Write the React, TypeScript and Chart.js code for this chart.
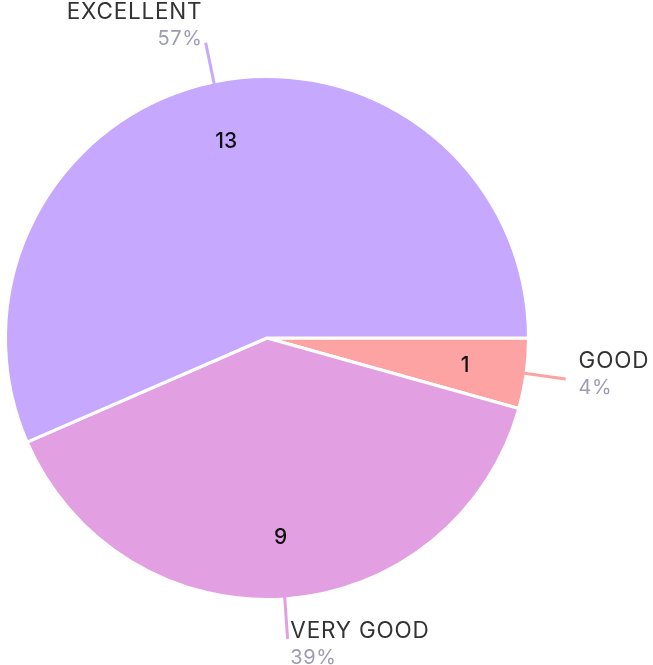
import React, { useEffect, useRef } from "react";
import { Chart, registerables } from "chart.js";

Chart.register(...registerables);

const labels = ["GOOD", "VERY GOOD", "EXCELLENT"];
const values = [1, 9, 13];
const colors = ["#fea3a3", "#e2a0e2", "#c6a8fe"];

const FONT = "Inter, 'DejaVu Sans', sans-serif";

const labelPlugin = {
  id: "pieLabels",
  afterDraw(chart: any) {
    const ctx = chart.ctx;
    const meta = chart.getDatasetMeta(0);
    const data = chart.data.datasets[0].data as number[];
    const total = data.reduce((a, b) => a + b, 0);
    meta.data.forEach((arc: any, i: number) => {
      const { x, y, startAngle, endAngle, outerRadius } = arc.getProps(
        ["x", "y", "startAngle", "endAngle", "outerRadius"],
        true
      );
      const mid = (startAngle + endAngle) / 2;
      const c = Math.cos(mid);
      const s = Math.sin(mid);
      ctx.save();
      // value inside
      const ri = outerRadius * 0.765;
      ctx.fillStyle = "#111";
      (ctx as any).letterSpacing = "0px";
      ctx.font = `500 21px ${FONT}`;
      ctx.textAlign = "center";
      ctx.textBaseline = "middle";
      ctx.fillText(String(data[i]), x + c * ri, y + s * ri);
      // leader line
      const r0 = outerRadius - 2;
      const r1 = outerRadius + 40;
      const ex = x + c * r1;
      const ey = y + s * r1;
      ctx.strokeStyle = colors[i];
      ctx.lineWidth = 3;
      ctx.beginPath();
      ctx.moveTo(x + c * r0, y + s * r0);
      ctx.lineTo(ex, ey);
      ctx.stroke();
      // outer label
      const left = c >= 0;
      const tx = ex + (left ? 1 : -1) * (2 + 11 * Math.abs(c)) + (left ? 0 : 1);
      const cy = ey - 7 + 12 * s;
      const nameBase = cy - 5.5;
      ctx.textAlign = left ? "left" : "right";
      ctx.textBaseline = "alphabetic";
      ctx.fillStyle = "#333333";
      (ctx as any).letterSpacing = "0.8px";
      ctx.font = `400 22.5px ${FONT}`;
      ctx.fillText(chart.data.labels[i], tx, nameBase);
      ctx.fillStyle = "#9d9cb5";
      (ctx as any).letterSpacing = "0.6px";
      ctx.font = `400 20px ${FONT}`;
      const pct = Math.round((data[i] / total) * 100) + "%";
      ctx.fillText(pct, tx, nameBase + 26);
      ctx.restore();
    });
  },
};

export default function App() {
  const ref = useRef<HTMLCanvasElement>(null);
  useEffect(() => {
    document.body.style.margin = "0";
    const chart = new Chart(ref.current!, {
      type: "pie",
      data: {
        labels,
        datasets: [
          {
            data: values,
            backgroundColor: colors,
            borderColor: "#ffffff",
            borderWidth: 3,
          },
        ],
      },
      options: {
        responsive: false,
        animation: false,
        rotation: 90,
        layout: { padding: { left: 4, right: 123, top: 75, bottom: 64 } },
        plugins: {
          legend: { display: false },
          tooltip: { enabled: false },
        },
      },
      plugins: [labelPlugin],
    });
    return () => chart.destroy();
  }, []);
  return (
    <div style={{ width: 653, height: 665 }}>
      <canvas ref={ref} width={653} height={665} style={{ display: "block" }} />
    </div>
  );
}
